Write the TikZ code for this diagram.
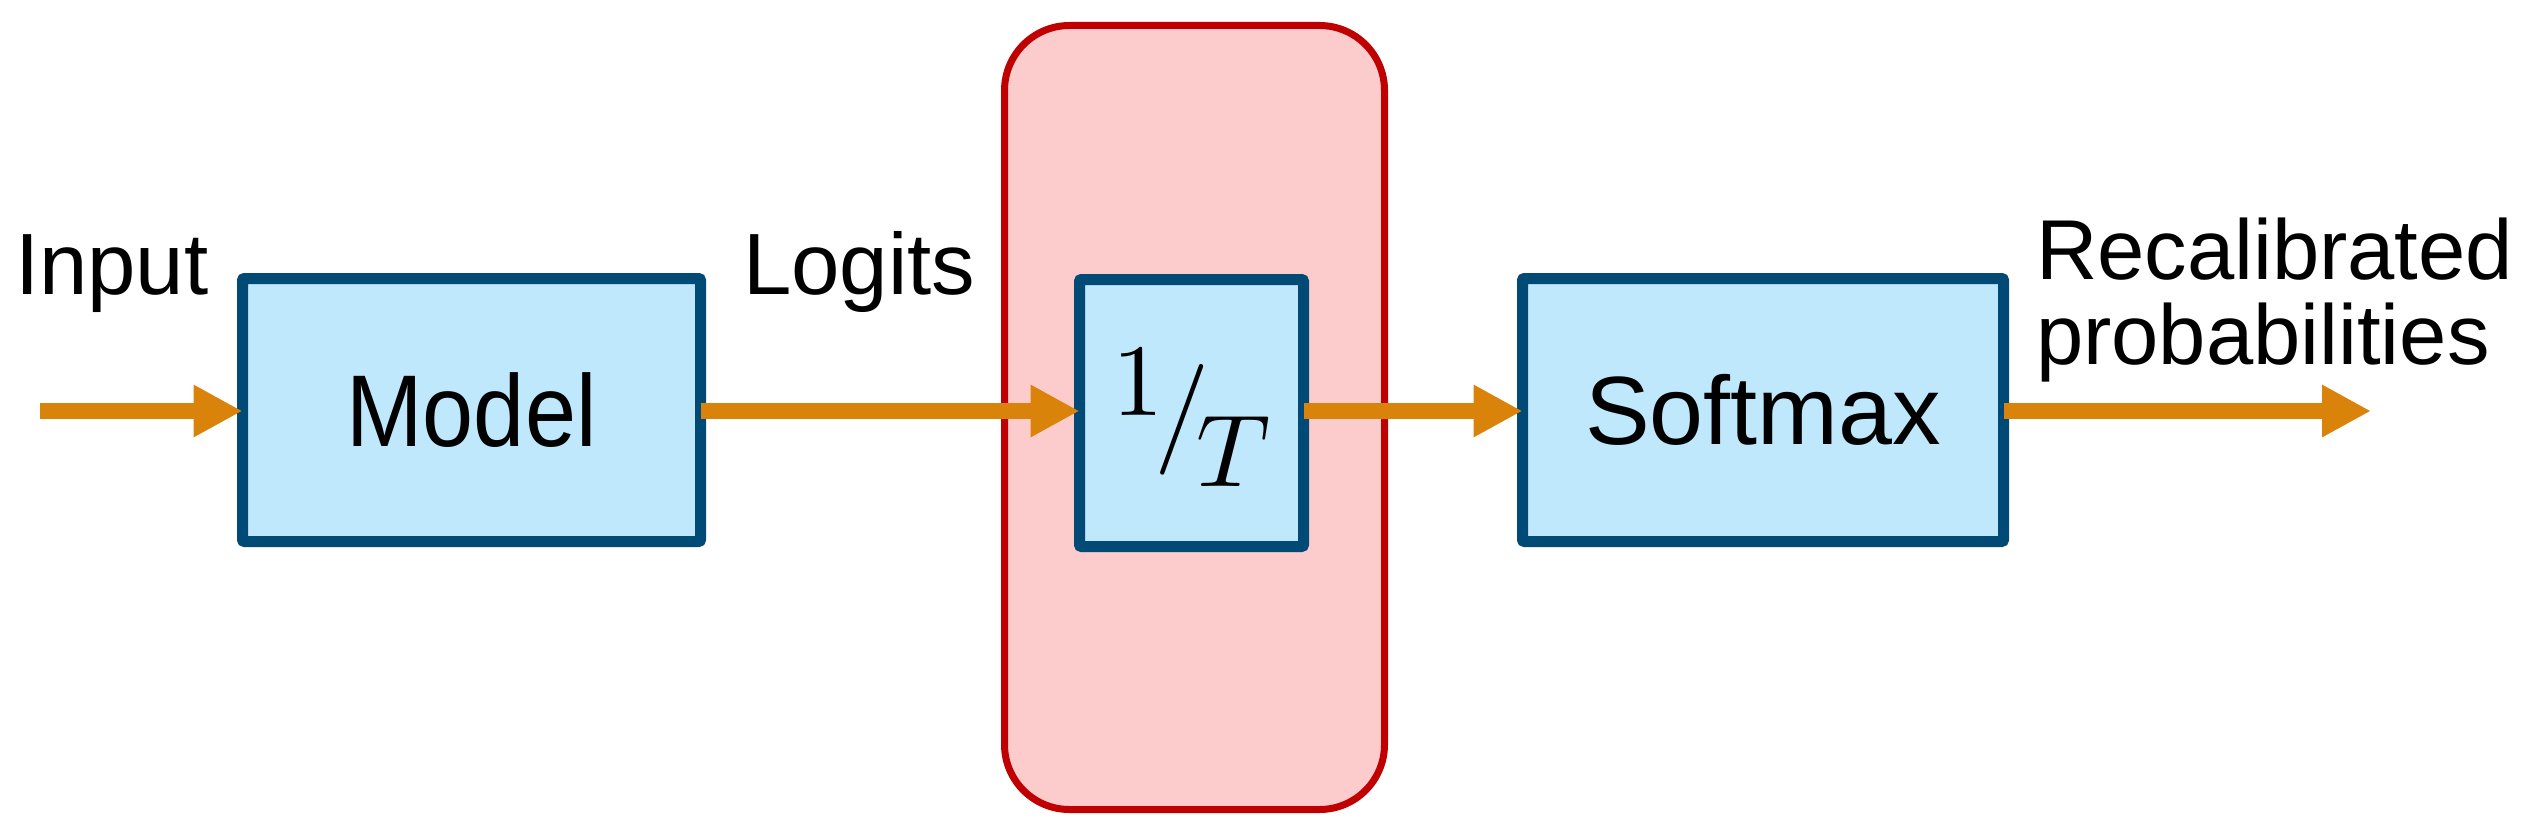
\documentclass[tikz,border=0pt]{standalone}
\usepackage[no-math]{fontspec}
\setmainfont{Liberation Sans}
\newfontfamily\narrowsans[FakeStretch=0.9]{Liberation Sans}
\usetikzlibrary{arrows.meta}
\definecolor{flowc}{RGB}{218,131,10}
\definecolor{boxline}{RGB}{0,74,117}
\definecolor{boxfill}{RGB}{192,232,252}
\definecolor{redline}{RGB}{192,0,0}
\definecolor{redfill}{RGB}{252,203,203}
\tikzset{
  blockbox/.style={draw=boxline, fill=boxfill, line width=11pt, rounded corners=2pt, outer sep=0pt, inner sep=0pt},
  tempbox/.style={draw=redline, fill=redfill, line width=7pt, rounded corners=65pt, outer sep=0pt, inner sep=0pt},
  flow/.style={draw=flowc, line width=16pt, -{Triangle[length=49pt,width=49pt]}},
  lbl/.style={inner sep=0pt, outer sep=0pt, font=\fontsize{87}{87}\selectfont}
}
\begin{document}
\begin{tikzpicture}[x=1pt,y=-1pt]
\useasboundingbox (0,0) rectangle (2540,832);
% temperature container
\node[tempbox, minimum width=380pt, minimum height=784pt] (temp) at (1194.5,417.5) {};
% blocks
\node[blockbox, minimum width=458pt, minimum height=263pt, font=\narrowsans\fontsize{102}{102}\selectfont] (model) at (471.5,410) {Model};
\node[blockbox, minimum width=224pt, minimum height=267pt] (scale) at (1191.5,413) {};
\node[anchor=base, inner sep=0pt] (invT) at (1192,447) {\scalebox{10.25}{$\raisebox{3.1pt}{$1$}\kern-0.9pt\scalebox{1.08}{$/$}\kern-1.3pt\raisebox{-3.9pt}{$T$}$}};
\node[blockbox, minimum width=481pt, minimum height=263pt, font=\fontsize{97}{97}\selectfont] (softmax) at (1763,410) {Softmax};
% labels
\node[lbl, anchor=base west] (input) at (15,294) {Input};
\node[lbl, anchor=base west] (logits) at (743,294) {Logits};
\node[lbl, anchor=base west, align=left, font=\fontsize{85}{85}\selectfont] (recal) at (2036,364) {Recalibrated\\probabilities};
% connectors
\coordinate (start) at (40,411);
\coordinate (finish) at (2371,411);
\draw[flow] (start) -- (start -| model.west);
\draw[flow] (model.east |- start) -- (scale.west |- start);
\draw[flow] (scale.east |- start) -- (softmax.west |- start);
\draw[flow] (softmax.east |- start) -- (finish);
\end{tikzpicture}
\end{document}
